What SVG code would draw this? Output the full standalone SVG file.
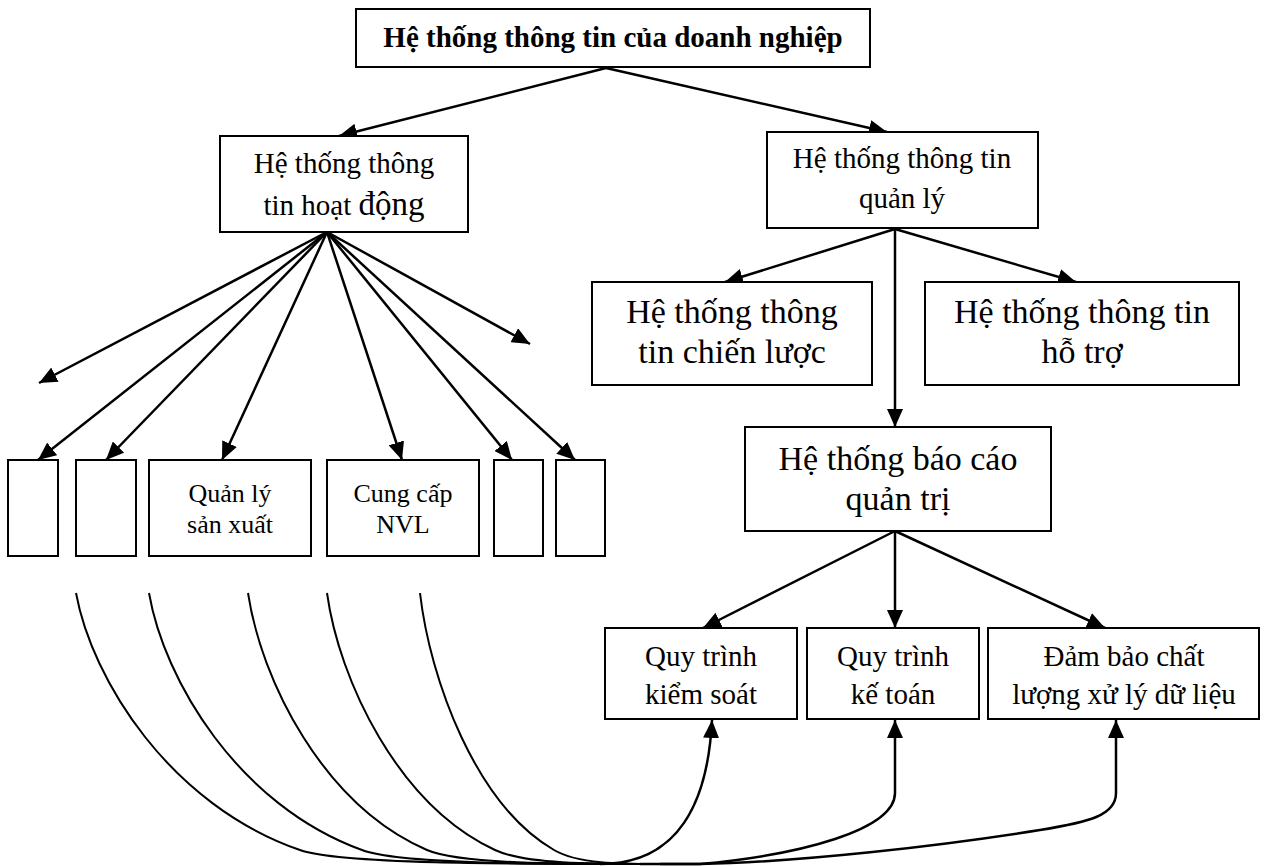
<svg xmlns="http://www.w3.org/2000/svg" width="1270" height="866" viewBox="0 0 1270 866">
  <style>
    .box { fill: #fff; stroke: #000; stroke-width: 2; }
    .t { font-family: "Liberation Serif", "Times New Roman", serif; fill: #000; text-anchor: middle; }
    .s29 { font-size: 29px; }
    .s34 { font-size: 34px; }
    .s26 { font-size: 26px; }
    .bold { font-weight: bold; }
    .arrow { fill: none; stroke: #000; stroke-width: 2.5; marker-end: url(#head); }
    .curve { fill: none; stroke: #000; stroke-width: 2; }
    .curve-arrow { fill: none; stroke: #000; stroke-width: 2.5; marker-end: url(#head); }
  </style>
  <defs>
    <marker id="head" markerUnits="userSpaceOnUse" markerWidth="19" markerHeight="16" refX="18" refY="8" orient="auto">
      <path d="M0,0 L18,8 L0,16 z" fill="#000"/>
    </marker>
  </defs>
  <rect width="1270" height="866" fill="#fff"/>

  <!-- connectors -->
  <g id="connectors">
    <!-- top level -->
    <line class="arrow" x1="606" y1="68" x2="339" y2="136"/>
    <line class="arrow" x1="606" y1="68" x2="887" y2="132"/>
    <!-- operational fan -->
    <line class="arrow" x1="327" y1="232" x2="39" y2="383"/>
    <line class="arrow" x1="327" y1="232" x2="38" y2="460"/>
    <line class="arrow" x1="327" y1="232" x2="106" y2="460"/>
    <line class="arrow" x1="327" y1="232" x2="222" y2="460"/>
    <line class="arrow" x1="327" y1="232" x2="402" y2="460"/>
    <line class="arrow" x1="327" y1="232" x2="512" y2="460"/>
    <line class="arrow" x1="327" y1="232" x2="575" y2="460"/>
    <line class="arrow" x1="327" y1="232" x2="530" y2="344"/>
    <!-- management fan -->
    <line class="arrow" x1="895" y1="229" x2="725" y2="282"/>
    <line class="arrow" x1="895" y1="229" x2="1076" y2="282"/>
    <line class="arrow" x1="895" y1="229" x2="895" y2="427"/>
    <!-- reporting fan -->
    <line class="arrow" x1="895" y1="531" x2="703" y2="628"/>
    <line class="arrow" x1="895" y1="531" x2="895" y2="628"/>
    <line class="arrow" x1="895" y1="531" x2="1105" y2="628"/>
    <!-- flows gathering along the bottom -->
    <path class="curve" d="M76,593 C92,680 170,805 300,850 C340,864 500,864 660,864"/>
    <path class="curve" d="M149,593 C164,680 238,805 362,850 C400,864 530,864 660,864"/>
    <path class="curve" d="M248,593 C261,680 323,805 427,850 C459,864 560,864 660,864"/>
    <path class="curve" d="M327,593 C339,680 398,805 495,850 C525,864 590,864 660,864"/>
    <path class="curve" d="M420,593 C430,680 476,805 554,850 C578,864 620,864 660,864"/>
    <!-- flows rising into the process boxes -->
    <path class="curve-arrow" d="M600,864 C680,864 708,800 712,720"/>
    <path class="curve-arrow" d="M640,864 L700,864 C800,855 895,830 895,793 L895,720"/>
    <path class="curve-arrow" d="M660,864 L700,864 C800,862 940,846 1040,830 C1090,822 1116,815 1116,793 L1116,720"/>
  </g>

  <!-- nodes -->
  <g id="n-enterprise">
    <rect class="box" x="356" y="9" width="514" height="58"/>
    <text class="t s29 bold" x="613" y="47">Hệ thống thông tin của doanh nghiệp</text>
  </g>
  <g id="n-operational">
    <rect class="box" x="220" y="136" width="248" height="96"/>
    <text class="t s29" x="344" y="173">Hệ thống thông</text>
    <text class="t s29" x="344" y="215">tin hoạt <tspan font-size="33">động</tspan></text>
  </g>
  <g id="n-management">
    <rect class="box" x="767" y="132" width="271" height="96"/>
    <text class="t s29" x="902" y="168">Hệ thống thông tin</text>
    <text class="t s29" x="902" y="208">quản lý</text>
  </g>
  <g id="n-strategic">
    <rect class="box" x="592" y="282" width="280" height="103"/>
    <text class="t s34" x="732" y="323">Hệ thống thông</text>
    <text class="t s34" x="732" y="363">tin chiến lược</text>
  </g>
  <g id="n-support">
    <rect class="box" x="925" y="282" width="314" height="103"/>
    <text class="t s34" x="1082" y="323">Hệ thống thông tin</text>
    <text class="t s34" x="1082" y="363">hỗ trợ</text>
  </g>
  <g id="n-reporting">
    <rect class="box" x="745" y="427" width="306" height="104"/>
    <text class="t s34" x="898" y="470">Hệ thống báo cáo</text>
    <text class="t s34" x="898" y="510">quản trị</text>
  </g>
  <g id="n-op1"><rect class="box" x="8" y="460" width="50" height="96"/></g>
  <g id="n-op2"><rect class="box" x="76" y="460" width="60" height="96"/></g>
  <g id="n-production">
    <rect class="box" x="149" y="460" width="162" height="96"/>
    <text class="t s26" x="230" y="502">Quản lý</text>
    <text class="t s26" x="230" y="533">sản xuất</text>
  </g>
  <g id="n-supply">
    <rect class="box" x="327" y="460" width="152" height="96"/>
    <text class="t s26" x="403" y="502">Cung cấp</text>
    <text class="t s26" x="403" y="533">NVL</text>
  </g>
  <g id="n-op5"><rect class="box" x="494" y="460" width="49" height="96"/></g>
  <g id="n-op6"><rect class="box" x="556" y="460" width="49" height="96"/></g>
  <g id="n-control">
    <rect class="box" x="605" y="628" width="192" height="91"/>
    <text class="t s29" x="701" y="666">Quy trình</text>
    <text class="t s29" x="701" y="704">kiểm soát</text>
  </g>
  <g id="n-accounting">
    <rect class="box" x="807" y="628" width="172" height="91"/>
    <text class="t s29" x="893" y="666">Quy trình</text>
    <text class="t s29" x="893" y="704">kế toán</text>
  </g>
  <g id="n-quality">
    <rect class="box" x="988" y="628" width="271" height="91"/>
    <text class="t s29" x="1124" y="666">Đảm bảo chất</text>
    <text class="t s29" x="1124" y="704">lượng xử lý dữ liệu</text>
  </g>
</svg>
